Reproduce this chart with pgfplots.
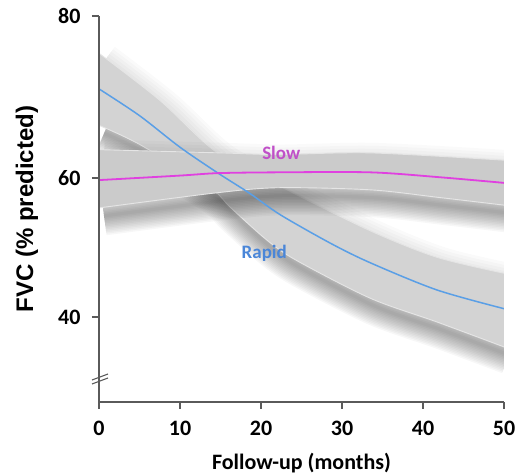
\documentclass[border=0pt]{standalone}
\usepackage{pgfplots}
\usepackage{pgfplotstable}
\pgfplotsset{compat=1.18}
\usepgfplotslibrary{fillbetween}
\usepackage{fontspec}
\setmainfont{Carlito}
\newfontfamily\arialfont{Liberation Sans}
\definecolor{rapidc}{HTML}{5A9FE6}
\definecolor{slowc}{HTML}{E040E0}
\definecolor{slowtxt}{HTML}{C050C8}
\definecolor{rapidtxt}{HTML}{4A86D8}
\definecolor{bandc}{HTML}{D3D3D3}
\definecolor{bandslow}{HTML}{CBCBCB}
\definecolor{axc}{HTML}{5A5A5A}

% FVC values (% predicted)
\pgfplotstableread{
x y
0 71.0
5 67.7
10 63.8
14.7 60.6
18.6 57.8
22.4 54.7
28.6 50.6
33.5 47.8
41.7 43.9
50 41.2
}\rapidmid
\pgfplotstableread{
x y
0 75.4
7.5 69.6
14.6 63.1
22.7 58.6
33.5 52.4
41.7 48.6
50 46.3
}\rapidup
\pgfplotstableread{
x y
0 66.5
5.1 64.1
13.7 58.6
16.2 55.8
20.7 51.1
24.3 48.2
33.5 42.7
41.7 39.3
50 35.7
}\rapidlo
\pgfplotstableread{
x y
0 59.7
10 60.3
14.7 60.6
22 60.7
33.5 60.7
42 60.1
50 59.3
}\slowmid
\pgfplotstableread{
x y
0 63.5
15 63.1
22 62.9
33.5 63.1
50 62.2
}\slowup
\pgfplotstableread{
x y
0 55.7
14 57.8
22 58.6
33.5 58.3
42 57.2
50 56.1
}\slowlo

\pgfplotsset{
  /tikz/fill between/on layer=main,
  sh/.style={black, draw opacity=0.03, line width=#1, smooth, xshift=5pt, yshift=-8pt, forget plot},
  shu/.style={black, draw opacity=0.02, line width=#1, smooth, xshift=5pt, yshift=-8pt, forget plot},
}

\begin{document}
\begin{tikzpicture}
\begin{axis}[
  at={(0,0)}, anchor=south west,
  scale only axis, width=405pt, height=386pt,
  xmin=0, xmax=50, ymin=32.35, ymax=80,
  % the original axis is compressed below 60 (20 units below 60 span less than 20 above)
  y filter/.expression={y<60 ? 60-(60-y)*0.858 : y},
  axis x line=bottom, axis y line=left,
  axis line style={-, axc, line width=1.2pt},
  tick style={axc, line width=1.2pt},
  tick align=outside, major tick length=7pt,
  xtick={0,10,20,30,40,50}, xticklabels={0,10,20,30,40,50},
  ytick={42.84,60,80}, yticklabels={40,60,80},
  /pgf/number format/assume math mode=true,
  tick label style={font=\fontsize{22}{26}\selectfont\bfseries, black},
  xticklabel style={yshift=-9pt},
  yticklabel style={xshift=-8pt},
  xlabel={Follow-up (months)},
  xlabel style={font=\fontsize{22}{26}\selectfont\bfseries, at={(axis description cs:0.5,-0.157)}, anchor=center},
  ylabel={FVC (\% predicted)},
  ylabel style={font=\arialfont\fontsize{24}{28}\selectfont\bfseries, at={(axis description cs:-0.178,0.5)}, anchor=center},
  axis on top,
]
% rapid shadow
\pgfplotsinvokeforeach{3,6,...,39}{\addplot[sh=#1pt] table {\rapidlo};}
\pgfplotsinvokeforeach{6,12,...,36}{\addplot[shu=#1pt] table {\rapidup};}
% rapid band
\addplot[draw=none, smooth, name path=ru] table {\rapidup};
\addplot[draw=none, smooth, name path=rl] table {\rapidlo};
\addplot[fill=bandc, draw=none] fill between[of=ru and rl, on layer=main];
\addplot[white!80!gray, line width=0.9pt, smooth] table {\rapidup};
\addplot[white!80!gray, line width=0.9pt, smooth] table {\rapidlo};

% slow shadow
\pgfplotsinvokeforeach{3,6,...,39}{\addplot[sh=#1pt] table {\slowlo};}
\pgfplotsinvokeforeach{6,12,...,36}{\addplot[shu=#1pt] table {\slowup};}
% slow band
\addplot[draw=none, smooth, name path=su] table {\slowup};
\addplot[draw=none, smooth, name path=sl] table {\slowlo};
\addplot[fill=bandslow, draw=none] fill between[of=su and sl, on layer=main];
\addplot[white!80!gray, line width=0.9pt, smooth] table {\slowup};
\addplot[white!80!gray, line width=0.9pt, smooth] table {\slowlo};

% centre lines
\addplot[rapidc, line width=1.5pt, smooth] table {\rapidmid};
\addplot[slowc, line width=1.8pt, smooth] table {\slowmid};

\node[font=\fontsize{19}{22}\selectfont\bfseries, text=slowtxt] at (axis cs:22.5,63.1) {Slow};
\node[font=\fontsize{19}{22}\selectfont\bfseries, text=rapidtxt] at (axis cs:20.4,50.7) {Rapid};
\end{axis}
% axis break marks
\draw[axc, line width=1.1pt] (-7pt,22pt) -- (9pt,28pt);
\draw[axc, line width=1.1pt] (-7pt,18pt) -- (9pt,24pt);
\pgfresetboundingbox
\path[use as bounding box] (-99pt,-74pt) rectangle (416pt,402pt);
\end{tikzpicture}
\end{document}
